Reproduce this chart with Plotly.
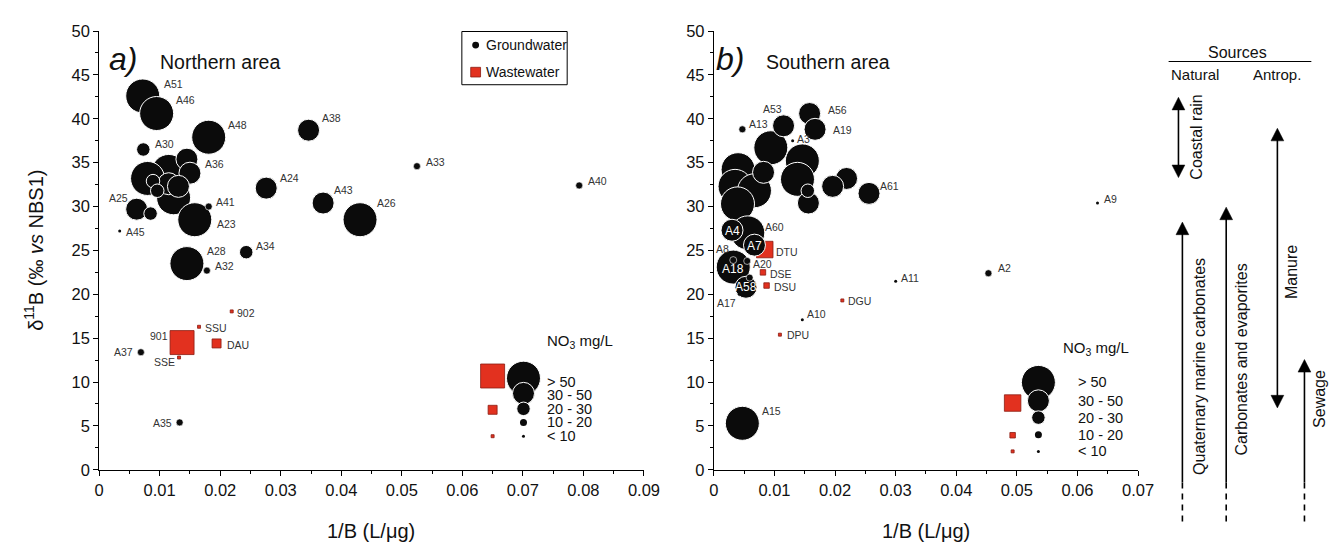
import plotly.graph_objects as go

W, H = 1341, 555
FONT = "Liberation Sans, Arial, sans-serif"

NO3_LABELS = ["< 10", "10 - 20", "20 - 30", "30 - 50", "> 50"]  # class 0..4

# ---------------- (a) Northern area ----------------
n_gw_name = ["A51", "A46", "A48", "A30", "", "A36", "", "", "", "", "", "", "",
             "A25", "", "A41", "A23", "A24", "A38", "A33", "A40", "A43", "A26",
             "A34", "A45", "A28", "A32", "A37", "A35"]
n_gw_x = [0.0072, 0.0095, 0.0181, 0.0073, 0.0145, 0.0150, 0.0115, 0.0080, 0.0123,
          0.0115, 0.0131, 0.0089, 0.0096, 0.0062, 0.0085, 0.0181, 0.0158, 0.0276,
          0.0346, 0.0525, 0.0793, 0.0370, 0.0431, 0.0243, 0.0034, 0.0145, 0.0178,
          0.0069, 0.0133]
n_gw_y = [42.6, 40.6, 37.9, 36.5, 35.4, 33.8, 34.0, 33.2, 31.0, 32.6, 32.3, 32.9,
          31.8, 29.7, 29.2, 30.0, 28.5, 32.1, 38.7, 34.6, 32.4, 30.4, 28.5, 24.8,
          27.2, 23.5, 22.7, 13.4, 5.4]
n_gw_cls = [4, 4, 4, 2, 3, 3, 4, 4, 4, 3, 3, 2, 2, 3, 2, 1, 4, 3, 3, 1, 1, 3, 4, 2,
            0, 4, 1, 1, 1]

n_ww_name = ["902", "SSU", "901", "DAU", "SSE"]
n_ww_x = [0.0219, 0.0165, 0.0137, 0.0194, 0.0132]
n_ww_y = [18.05, 16.3, 14.5, 14.4, 12.8]
n_ww_cls = [0, 0, 4, 2, 0]

# ---------------- (b) Southern area ----------------
s_gw_name = ["A56", "A53", "A19", "A13", "A3", "", "", "", "", "", "", "", "", "",
             "A61", "", "", "", "A4", "A60", "A7", "A18", "A8", "A20", "A58", "",
             "A17", "A10", "A11", "A2", "A9", "A15"]
s_gw_x = [0.0158, 0.0115, 0.0167, 0.0047, 0.0130, 0.0094, 0.0146, 0.0040, 0.0082,
          0.0138, 0.0035, 0.0067, 0.0219, 0.0196, 0.0256, 0.0155, 0.0156, 0.0039,
          0.0030, 0.0056, 0.0067, 0.0032, 0.0032, 0.0055, 0.0053, 0.0059, 0.0042,
          0.0146, 0.0300, 0.0453, 0.0633, 0.0047]
s_gw_y = [40.6, 39.2, 38.8, 38.8, 37.5, 36.7, 35.2, 34.2, 33.9, 33.1, 32.3, 31.8,
          33.2, 32.3, 31.5, 31.8, 30.4, 30.3, 27.3, 27.0, 25.6, 23.1, 23.9, 23.8,
          20.8, 21.9, 20.0, 17.1, 21.5, 22.4, 30.4, 5.3]
s_gw_cls = [3, 3, 3, 1, 0, 4, 4, 4, 3, 4, 4, 4, 3, 3, 3, 2, 3, 4, 3, 4, 3, 4, 1, 1,
            3, 1, 0, 0, 0, 1, 0, 4]

s_ww_name = ["DTU", "DSE", "DSU", "DGU", "DPU"]
s_ww_x = [0.0084, 0.0081, 0.0087, 0.0212, 0.0109]
s_ww_y = [25.1, 22.5, 21.0, 19.3, 15.4]
s_ww_cls = [3, 1, 1, 0, 0]

x_ticks_a = [0, 0.01, 0.02, 0.03, 0.04, 0.05, 0.06, 0.07, 0.08, 0.09]
x_ticks_b = [0, 0.01, 0.02, 0.03, 0.04, 0.05, 0.06, 0.07]
y_ticks = [0, 5, 10, 15, 20, 25, 30, 35, 40, 45, 50]

# ---------------- styles ----------------
CIRCLE_SIZE = [3, 7, 13.5, 22, 34]
SQUARE_SIZE = [3, 5.5, 9, 16.5, 24]
BLACK = "#0b0b0b"
RED = "#e2311f"
RED_EDGE = "#8a1c12"
LABEL_COLOR = "#333333"
LABEL_SIZE = 10.5

# label offsets (px): dx, dy(down +), anchor
label_style = {
    "A51": (19, -12, "left"), "A46": (17.6, -13.3, "left"), "A48": (17.7, -12.3, "left"),
    "A30": (10, -5, "left"), "A36": (13.3, -9, "left"), "A25": (-6.4, -11.3, "right"),
    "A41": (5, -5, "left"), "A23": (20, 4, "left"), "A45": (4, 0.6, "left"),
    "A28": (17.6, -12.7, "left"), "A32": (6, -4.6, "left"), "A34": (7.6, -6, "left"),
    "902": (3.4, 1.4, "left"), "SSU": (3.7, 1.7, "left"), "901": (-12.4, -7, "right"),
    "DAU": (8.3, 1.6, "left"), "A37": (-5.7, 0, "right"), "SSE": (-2.3, 4.3, "right"),
    "A35": (-6, 0.6, "right"), "A38": (11, -11.7, "left"), "A33": (6.6, -4.3, "left"),
    "A40": (7, -4.3, "left"), "A24": (11.7, -10.3, "left"), "A43": (9, -13.3, "left"),
    "A26": (15, -16.6, "left"),
    "A53": (0.6, -17.3, "right"), "A56": (16, -3.3, "left"), "A19": (15.7, 0.7, "left"),
    "A13": (4.3, -5.3, "left"), "A3": (2.7, -1.6, "left"), "A61": (9, -7, "left"),
    "A60": (15.6, -5.6, "left"), "A8": (-2.7, -11, "right"), "A4": (0, 0.7, "center"),
    "A7": (0, 1.3, "center"), "A18": (0, 1.7, "center"), "A58": (0, 0, "center"),
    "A20": (4, 3.4, "left"), "A17": (-1, 8.7, "right"), "A10": (2.3, -5.4, "left"),
    "A11": (3.3, -3.4, "left"), "A2": (8, -5, "left"), "A9": (4.3, -3.7, "left"),
    "A15": (18, -12, "left"), "DTU": (9, 2, "left"), "DSE": (5, 2, "left"),
    "DSU": (5.3, 1.3, "left"), "DGU": (3.3, 0.6, "left"), "DPU": (5, 0, "left"),
}
white_labels = {"A4", "A7", "A18", "A58"}

# pixel geometry of panels
PLOT_TOP, PLOT_BOTTOM = 14.5, 468
A_LEFT, A_RIGHT = 87.5, 641
B_LEFT, B_RIGHT = 712, 1143


def pxx(x):
    return x / W


def pxy(y):
    return 1 - y / H


fig = go.Figure()
annotations = []
shapes = []


def add_panel(xa, ya, gw, ww):
    gname, gx, gy, gc = gw
    wname, wx, wy, wc = ww
    fig.add_trace(go.Scatter(
        x=wx, y=wy, mode="markers", xaxis=xa, yaxis=ya, hoverinfo="skip",
        marker=dict(symbol="square", size=[SQUARE_SIZE[c] for c in wc], color=RED,
                    opacity=1, line=dict(color=RED_EDGE, width=0.8)), cliponaxis=False))
    order = sorted(range(len(gx)), key=lambda i: -gc[i])
    fig.add_trace(go.Scatter(
        x=[gx[i] for i in order], y=[gy[i] for i in order], mode="markers",
        xaxis=xa, yaxis=ya, hoverinfo="skip", cliponaxis=False,
        marker=dict(symbol="circle", size=[CIRCLE_SIZE[gc[i]] for i in order],
                    color=BLACK, opacity=1,
                    line=dict(color="white",
                              width=[1.0 if gc[i] >= 2 else (0.6 if gc[i] == 1 else 0) for i in order]))))
    for names, xs, ys in ((gname, gx, gy), (wname, wx, wy)):
        for n, x, y in zip(names, xs, ys):
            if not n:
                continue
            dx, dy, anc = label_style[n]
            white = n in white_labels
            annotations.append(dict(
                x=x, y=y, xref=xa, yref=ya, text=n, showarrow=False,
                xanchor=anc, yanchor="middle", xshift=dx, yshift=-dy,
                font=dict(family=FONT, size=12 if white else LABEL_SIZE,
                          color="white" if white else LABEL_COLOR)))


add_panel("x", "y", (n_gw_name, n_gw_x, n_gw_y, n_gw_cls),
          (n_ww_name, n_ww_x, n_ww_y, n_ww_cls))
add_panel("x2", "y2", (s_gw_name, s_gw_x, s_gw_y, s_gw_cls),
          (s_ww_name, s_ww_x, s_ww_y, s_ww_cls))


# ---------------- NO3 size legends ----------------
def add_size_legend(xa, ya, cx, sx, tx, circ_y, sq, text_y, title_xy):
    cls_order = [4, 3, 2, 1, 0]
    fig.add_trace(go.Scatter(
        x=[cx] * 5, y=circ_y, mode="markers", xaxis=xa, yaxis=ya, hoverinfo="skip",
        cliponaxis=False,
        marker=dict(size=[CIRCLE_SIZE[c] for c in cls_order], color=BLACK, opacity=1,
                    line=dict(color="white", width=[1, 1, 1, 0, 0]))))
    fig.add_trace(go.Scatter(
        x=[sx] * len(sq), y=[s[1] for s in sq], mode="markers", xaxis=xa, yaxis=ya,
        hoverinfo="skip", cliponaxis=False,
        marker=dict(symbol="square", size=[SQUARE_SIZE[s[0]] for s in sq], color=RED,
                    opacity=1, line=dict(color=RED_EDGE, width=0.8))))
    for c, ty in zip(cls_order, text_y):
        annotations.append(dict(x=tx, y=ty, xref=xa, yref=ya, text=NO3_LABELS[c],
                                showarrow=False, xanchor="left", yanchor="middle",
                                font=dict(family=FONT, size=14.5, color="#111")))
    annotations.append(dict(x=title_xy[0], y=title_xy[1], xref=xa, yref=ya,
                            text="NO<sub>3</sub> mg/L", showarrow=False,
                            xanchor="left", yanchor="middle",
                            font=dict(family=FONT, size=15, color="#111")))


add_size_legend("x", "y", 0.0701, 0.0650, 0.0737,
                [10.44, 8.71, 6.95, 5.40, 3.83],
                [(4, 10.69), (2, 6.84), (0, 3.83)],
                [10.0, 8.5, 6.95, 5.40, 3.83], (0.0737, 14.66))
add_size_legend("x2", "y2", 0.05355, 0.0493, 0.0597,
                [9.96, 7.86, 5.95, 4.0, 2.1],
                [(3, 7.61), (1, 3.94), (0, 2.1)],
                [9.96, 7.86, 5.95, 4.0, 2.1], (0.0573, 13.8))

# ---------------- axes ----------------
axis_common = dict(showline=True, linecolor="black", linewidth=1, ticks="outside",
                   ticklen=5, tickwidth=1, tickcolor="black", showgrid=False,
                   zeroline=False, tickfont=dict(family=FONT, size=16.5, color="#111"),
                   fixedrange=True)
ydom = [pxy(PLOT_BOTTOM), pxy(PLOT_TOP)]
fig.update_layout(
    xaxis=dict(axis_common, domain=[pxx(A_LEFT), pxx(A_RIGHT)], range=[0, 0.09],
               tickvals=x_ticks_a, ticktext=[f"{v:g}" for v in x_ticks_a], anchor="y",
               minor=dict(ticks="outside", ticklen=3, dtick=0.005, tick0=0,
                          tickcolor="black")),
    yaxis=dict(axis_common, domain=ydom, range=[0, 50], tickvals=y_ticks, anchor="x",
               minor=dict(ticks="outside", ticklen=3, dtick=2.5, tick0=0,
                          tickcolor="black")),
    xaxis2=dict(axis_common, domain=[pxx(B_LEFT), pxx(B_RIGHT)], range=[0, 0.07],
                tickvals=x_ticks_b, ticktext=[f"{v:g}" for v in x_ticks_b], anchor="y2",
                minor=dict(ticks="outside", ticklen=3, dtick=0.005, tick0=0,
                           tickcolor="black")),
    yaxis2=dict(axis_common, domain=ydom, range=[0, 50], tickvals=y_ticks, anchor="x2",
                minor=dict(ticks="outside", ticklen=3, dtick=2.5, tick0=0,
                           tickcolor="black")),
)


def ann_px(x, y, text, size, anchor="center", angle=0, color="#111", yanchor="middle"):
    annotations.append(dict(x=pxx(x), y=pxy(y), xref="paper", yref="paper", text=text,
                            showarrow=False, xanchor=anchor, yanchor=yanchor,
                            textangle=angle,
                            font=dict(family=FONT, size=size, color=color)))


ann_px(364, 531, "1/B (L/μg)", 20)
ann_px(928, 531, "1/B (L/μg)", 20)
ann_px(21, 241, "δ<sup>11</sup>B (‰ <i>vs</i> NBS1)", 20, angle=-90)
ann_px(96, 43, "<i>a)</i>", 32, anchor="left")
ann_px(147, 46, "Northern area", 19.5, anchor="left")
ann_px(712, 43, "<i>b)</i>", 32, anchor="left")
ann_px(763, 46, "Southern area", 19.5, anchor="left")

# group legend box (top of panel a)
shapes.append(dict(type="rect", xref="paper", yref="paper", x0=pxx(456), x1=pxx(563),
                   y0=pxy(70), y1=pxy(15), line=dict(color="black", width=1)))
shapes.append(dict(type="circle", xref="paper", yref="paper", x0=pxx(466.5), x1=pxx(473.5),
                   y0=pxy(32.5), y1=pxy(25.5), fillcolor=BLACK, line=dict(width=0)))
shapes.append(dict(type="rect", xref="paper", yref="paper", x0=pxx(465), x1=pxx(475),
                   y0=pxy(62), y1=pxy(52), fillcolor=RED, line=dict(color=RED_EDGE, width=0.8)))
ann_px(478, 29, "Groundwater", 14, anchor="left")
ann_px(478, 57, "Wastewater", 14, anchor="left")


# ---------------- sources panel on the right ----------------
def vline(x, y0, y1, dash="solid"):
    shapes.append(dict(type="line", xref="paper", yref="paper", x0=pxx(x), x1=pxx(x),
                       y0=pxy(y0), y1=pxy(y1), line=dict(color="black", width=1.6, dash=dash)))


def head(x, tip, up=True, w=6.5, h=13):
    base = tip + h if up else tip - h
    path = (f"M {pxx(x)} {pxy(tip)} L {pxx(x - w)} {pxy(base)} "
            f"L {pxx(x + w)} {pxy(base)} Z")
    shapes.append(dict(type="path", xref="paper", yref="paper", path=path,
                       fillcolor="black", line=dict(color="black", width=0.5)))


ann_px(1244, 37, "Sources", 16)
shapes.append(dict(type="line", xref="paper", yref="paper", x0=pxx(1174), x1=pxx(1319),
                   y0=pxy(46), y1=pxy(46), line=dict(color="black", width=1)))
ann_px(1201, 59, "Natural", 15)
ann_px(1284, 59, "Antrop.", 15)

vline(1184, 90, 160)
head(1184, 83, True)
head(1184, 166, False)
ann_px(1202.5, 124, "Coastal rain", 16, angle=-90)

vline(1188, 220, 481)
vline(1188, 481, 525, dash="6px,5px")
head(1188, 212, True)
ann_px(1205.5, 361, "Quaternary marine carbonates", 16, angle=-90)

vline(1232.5, 205, 481)
vline(1232.5, 481, 525, dash="6px,5px")
head(1232.5, 196.5, True)
ann_px(1248.5, 354, "Carbonates and evaporites", 16, angle=-90)

vline(1284.5, 122, 397)
head(1284.5, 115, True)
head(1284.5, 404, False)
ann_px(1299, 264, "Manure", 16, angle=-90)

vline(1312, 362, 481)
vline(1312, 481, 525, dash="6px,5px")
head(1312, 354, True)
ann_px(1326.5, 395, "Sewage", 16, angle=-90)

fig.update_layout(
    width=W, height=H, margin=dict(l=0, r=0, t=0, b=0),
    paper_bgcolor="white", plot_bgcolor="white", showlegend=False,
    annotations=annotations, shapes=shapes,
    font=dict(family=FONT),
)

fig.write_html("out.html")
